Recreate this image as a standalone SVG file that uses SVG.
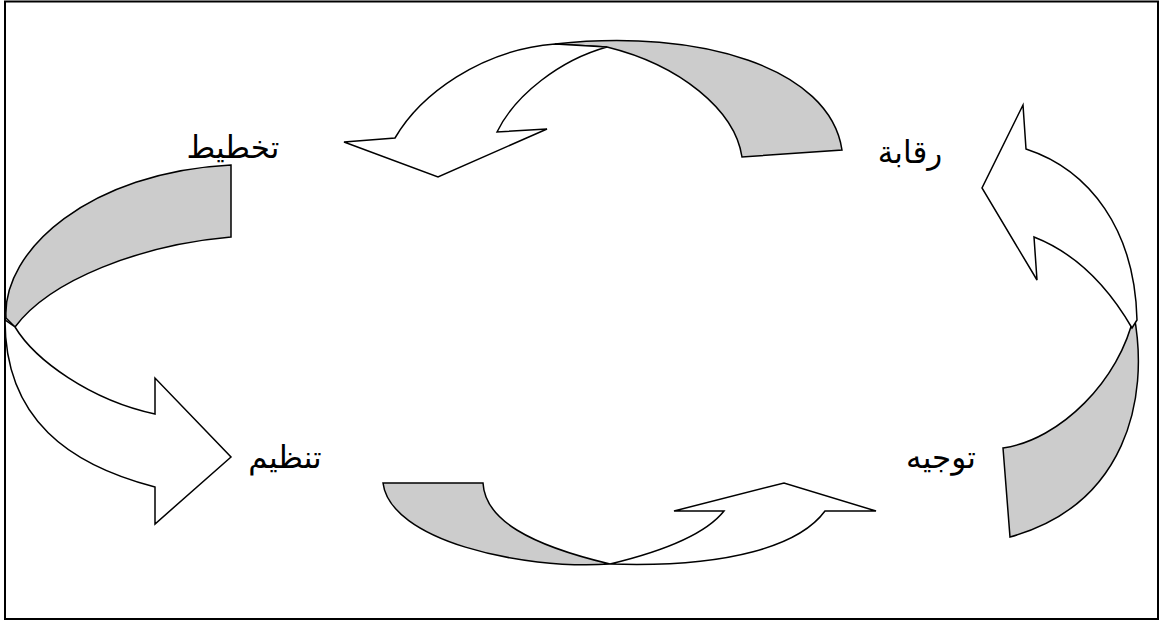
<svg xmlns="http://www.w3.org/2000/svg" width="1159" height="621" viewBox="0 0 1159 621">
<style>
.frame{fill:#fff;stroke:#000;stroke-width:2}
.g{fill:#ccc;stroke:#000;stroke-width:1.5;stroke-linejoin:miter}
.w{fill:#fff;stroke:#000;stroke-width:1.5;stroke-linejoin:miter}
.lbl{font-family:"DejaVu Sans","Noto Sans",sans-serif;font-size:31px;fill:#000;text-anchor:middle}
</style>
<rect class="frame" x="5" y="1.5" width="1153" height="617.5"/>
<g id="connectors">
<g id="arrow-top">
<path class="g" d="M555,44 C700,28 830,68 842,150 L742,157 C735,110 680,65 607,47 Z"/>
<path class="w" d="M395,138 C420,95 480,50 555,44 L607,47 C560,60 515,95 497,132 L547,129 L438,177 L344,142 Z"/>
</g>
<g id="arrow-left">
<path class="g" d="M231,165 L231,237 C140,245 50,280 15,327 L6,318 C2,250 90,172 231,165 Z"/>
<path class="w" d="M15,327 C35,360 90,400 155,414 L155,378 L231,457 L155,524 L155,487 C70,465 5,420 5,320 Z"/>
</g>
<g id="arrow-bottom">
<path class="g" d="M383,483 L483,483 C485,520 530,545 610,564 C520,570 390,540 383,483 Z"/>
<path class="w" d="M610,564 C660,552 705,535 724,511 L674,511 L784,483 L876,511 L825,511 C800,545 730,568 610,564 Z"/>
</g>
<g id="arrow-right">
<path class="g" d="M1134,315 C1150,400 1125,505 1010,537 L1003,448 C1060,440 1120,380 1134,315 Z"/>
<path class="w" d="M1026,149 C1090,170 1135,230 1137,320 L1132,328 C1110,290 1080,255 1034,237 L1037,280 L982,188 L1023,105 Z"/>
</g>
</g>
<g id="node-takhtit"><text class="lbl" x="233" y="158">تخطيط</text></g>
<g id="node-tanzim"><text class="lbl" x="285" y="468">تنظيم</text></g>
<g id="node-riqaba"><text class="lbl" x="910" y="163">رقابة</text></g>
<g id="node-tawjih"><text class="lbl" x="941" y="468">توجيه</text></g>
</svg>
